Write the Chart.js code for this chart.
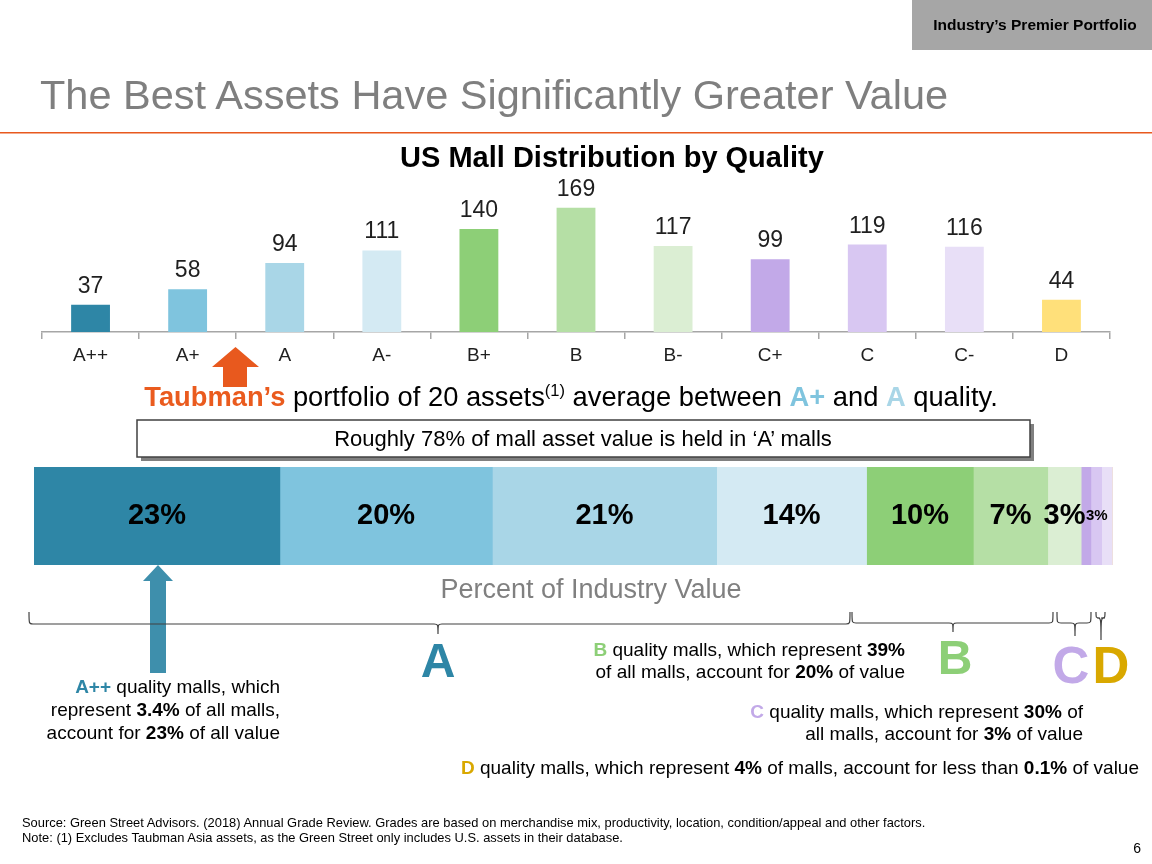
<!DOCTYPE html>
<html>
<head>
<meta charset="utf-8">
<script src="https://cdn.jsdelivr.net/npm/chart.js@4.4.1/dist/chart.umd.min.js"></script>
<style>
  body { margin: 0; background: #fff; font-family: 'Liberation Sans', Arial, sans-serif; }
  #slide { position: relative; width: 1152px; height: 864px; overflow: hidden; }
  .wrap { position: absolute; }
  #countWrap { left: 0; top: 160px; width: 1152px; height: 212px; }
  #shareWrap { left: 34px; top: 467px; width: 1079px; height: 98px; }
  #overlay { position: absolute; left: 0; top: 0; pointer-events: none; }
  svg text { font-family: 'Liberation Sans', Arial, sans-serif; }
</style>
</head>
<body>
<div id="slide">
  <div class="wrap" id="countWrap"><canvas id="count-chart"></canvas></div>
  <div class="wrap" id="shareWrap"><canvas id="share-chart"></canvas></div>
  <svg id="overlay" width="1152" height="864"></svg>
</div>

<script>
// ── DATA ────────────────────────────────────
const grades = ['A++', 'A+', 'A', 'A-', 'B+', 'B', 'B-', 'C+', 'C', 'C-', 'D'];
const mallCounts = [37, 58, 94, 111, 140, 169, 117, 99, 119, 116, 44];
// share of industry value (%)
const valueShare = [22.8, 19.7, 20.8, 13.9, 9.9, 6.9, 3.1, 0.9, 1.0, 1.0, 0.05];
const shareLabels = ['23%', '20%', '21%', '14%', '10%', '7%', '3%', '', '', '', ''];
const cGroup = [7, 9];          // C+ .. C- get one shared label
const cGroupLabel = '3%';
const gradeColors = [
  '#2E86A6', '#7FC4DE', '#A9D6E7', '#D4EAF3',
  '#8DCF77', '#B5DFA5', '#DBEED3',
  '#C2A9E8', '#D8C7F2', '#E8DFF7',
  '#FFE07A'
];

const FONT = "'Liberation Sans', Arial, sans-serif";

// ── CHART 1: MALL COUNT BY GRADE ────────────
const countLabels = {
  id: 'countLabels',
  afterDatasetsDraw(chart) {
    const ctx = chart.ctx;
    ctx.save();
    ctx.fillStyle = '#1f1f1f';
    ctx.font = '23px ' + FONT;
    ctx.textAlign = 'center';
    ctx.textBaseline = 'alphabetic';
    chart.getDatasetMeta(0).data.forEach((bar, i) => {
      ctx.fillText(String(mallCounts[i]), bar.x, bar.y - 12);
    });
    ctx.restore();
  }
};

new Chart(document.getElementById('count-chart'), {
  type: 'bar',
  data: {
    labels: grades,
    datasets: [{
      data: mallCounts,
      backgroundColor: gradeColors,
      borderWidth: 0,
      barPercentage: 0.4,
      categoryPercentage: 1
    }]
  },
  options: {
    responsive: true,
    maintainAspectRatio: false,
    animation: false,
    layout: { padding: { left: 42, right: 42, top: 25, bottom: 0 } },
    plugins: { legend: { display: false }, tooltip: { enabled: false } },
    scales: {
      x: {
        grid: { display: true, drawOnChartArea: false, offset: true, tickLength: 7, color: '#A6A6A6', lineWidth: 1.5 },
        border: { color: '#A6A6A6', width: 1.5 },
        ticks: { color: '#1f1f1f', font: { family: FONT, size: 19 }, padding: 5 },
        afterFit: (s) => { s.height = 40; }
      },
      y: { display: false, min: 0, max: 200 }
    }
  },
  plugins: [countLabels]
});

// ── CHART 2: PERCENT OF INDUSTRY VALUE ──────
const shareLabelPlugin = {
  id: 'shareLabels',
  afterDatasetsDraw(chart) {
    const ctx = chart.ctx;
    ctx.save();
    ctx.fillStyle = '#000';
    ctx.textAlign = 'center';
    ctx.textBaseline = 'middle';
    ctx.font = 'bold 29px ' + FONT;
    chart.data.datasets.forEach((ds, i) => {
      const lbl = shareLabels[i];
      if (!lbl) return;
      const bar = chart.getDatasetMeta(i).data[0];
      ctx.fillText(lbl, (bar.x + bar.base) / 2, bar.y);
    });
    const first = chart.getDatasetMeta(cGroup[0]).data[0];
    const last = chart.getDatasetMeta(cGroup[1]).data[0];
    ctx.font = 'bold 15px ' + FONT;
    ctx.fillText(cGroupLabel, (first.base + last.x) / 2, first.y);
    ctx.restore();
  }
};

const shareTotal = valueShare.reduce((a, b) => a + b, 0);

new Chart(document.getElementById('share-chart'), {
  type: 'bar',
  data: {
    labels: [''],
    datasets: grades.map((g, i) => ({
      label: g,
      data: [valueShare[i]],
      backgroundColor: gradeColors[i],
      borderWidth: 0,
      barPercentage: 1,
      categoryPercentage: 1
    }))
  },
  options: {
    indexAxis: 'y',
    responsive: true,
    maintainAspectRatio: false,
    animation: false,
    layout: { padding: 0 },
    plugins: { legend: { display: false }, tooltip: { enabled: false } },
    scales: {
      x: { display: false, stacked: true, min: 0, max: shareTotal },
      y: { display: false, stacked: true }
    }
  },
  plugins: [shareLabelPlugin]
});

// ── SLIDE DECORATION (SVG) ──────────────────
function brace(x1, x2, xm, yTop, yLine, yTip) {
  const r = 4;
  return `<path d="M${x1},${yTop} C${x1},${yLine} ${x1},${yLine} ${x1 + r},${yLine} ` +
    `L${xm - r},${yLine} C${xm},${yLine} ${xm},${yLine} ${xm},${yTip} ` +
    `C${xm},${yLine} ${xm},${yLine} ${xm + r},${yLine} L${x2 - r},${yLine} ` +
    `C${x2},${yLine} ${x2},${yLine} ${x2},${yTop}" fill="none" stroke="#404040" stroke-width="1.2"/>`;
}

const svg = document.getElementById('overlay');
svg.innerHTML = `
  <rect x="912" y="0" width="240" height="50" fill="#A6A6A6"/>
  <text x="1035" y="30" text-anchor="middle" font-size="15.5" font-weight="bold" fill="#000">Industry’s Premier Portfolio</text>
  <text x="40" y="109" font-size="41.5" fill="#7F7F7F">The Best Assets Have Significantly Greater Value</text>
  <rect x="0" y="132" width="1152" height="1.5" fill="#E8591E"/>
  <text x="612" y="167" text-anchor="middle" font-size="29" font-weight="bold" fill="#000">US Mall Distribution by Quality</text>

  <polygon points="235.5,347 259,367 247,367 247,387 223,387 223,367 212,367" fill="#E8591E"/>
  <text x="571" y="406" text-anchor="middle" font-size="27.3" fill="#000"><tspan font-weight="bold" fill="#EA5B1E">Taubman’s</tspan> portfolio of 20 assets<tspan font-size="16.5" dy="-10">(1)</tspan><tspan dy="10"> average between </tspan><tspan font-weight="bold" fill="#7FC4DE">A+</tspan> and <tspan font-weight="bold" fill="#A9D6E7">A</tspan> quality.</text>

  <rect x="141" y="424" width="893" height="37" fill="#808080"/>
  <rect x="137" y="420" width="893" height="37" fill="#fff" stroke="#404040" stroke-width="1.5"/>
  <text x="583" y="446" text-anchor="middle" font-size="22" fill="#000">Roughly 78% of mall asset value is held in ‘A’ malls</text>

  <text x="591" y="598" text-anchor="middle" font-size="27" fill="#808080">Percent of Industry Value</text>

  <polygon points="158,565 173,581 166,581 166,673 150,673 150,581 143,581" fill="#3E8FAC"/>
  ${brace(29, 850, 438, 612, 624, 634)}
  ${brace(852, 1053, 953, 612, 623, 632)}
  ${brace(1057, 1091, 1075, 612, 623, 636)}
  ${brace(1096, 1105, 1101, 612, 618, 640)}

  <text x="438" y="677" text-anchor="middle" font-size="48" font-weight="bold" fill="#2E86A6">A</text>
  <text x="955" y="674" text-anchor="middle" font-size="48" font-weight="bold" fill="#8DCF77">B</text>
  <text x="1071" y="683" text-anchor="middle" font-size="51" font-weight="bold" fill="#C2A9E8">C</text>
  <text x="1111" y="683" text-anchor="middle" font-size="51" font-weight="bold" fill="#D9A800">D</text>

  <g font-size="19" fill="#000" text-anchor="end">
    <text x="280" y="693"><tspan font-weight="bold" fill="#2E86A6">A++</tspan> quality malls, which</text>
    <text x="280" y="716">represent <tspan font-weight="bold">3.4%</tspan> of all malls,</text>
    <text x="280" y="739">account for <tspan font-weight="bold">23%</tspan> of all value</text>

    <text x="905" y="656"><tspan font-weight="bold" fill="#8DCF77">B</tspan> quality malls, which represent <tspan font-weight="bold">39%</tspan></text>
    <text x="905" y="678">of all malls, account for <tspan font-weight="bold">20%</tspan> of value</text>

    <text x="1083" y="718"><tspan font-weight="bold" fill="#C2A9E8">C</tspan> quality malls, which represent <tspan font-weight="bold">30%</tspan> of</text>
    <text x="1083" y="740">all malls, account for <tspan font-weight="bold">3%</tspan> of value</text>

    <text x="1139" y="774"><tspan font-weight="bold" fill="#D9A800">D</tspan> quality malls, which represent <tspan font-weight="bold">4%</tspan> of malls, account for less than <tspan font-weight="bold">0.1%</tspan> of value</text>
  </g>

  <text x="22" y="827" font-size="12.9" fill="#000">Source: Green Street Advisors. (2018) Annual Grade Review. Grades are based on merchandise mix, productivity, location, condition/appeal and other factors.</text>
  <text x="22" y="842" font-size="12.9" fill="#000">Note: (1) Excludes Taubman Asia assets, as the Green Street only includes U.S. assets in their database.</text>
  <text x="1141" y="853" text-anchor="end" font-size="14" fill="#000">6</text>
`;
</script>
</body>
</html>
